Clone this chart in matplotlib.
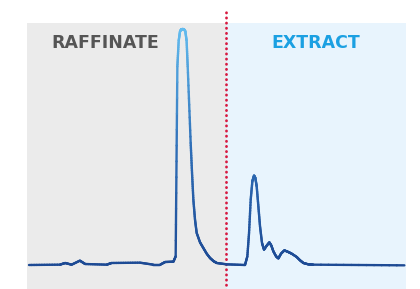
import numpy as np
import matplotlib
matplotlib.use("Agg")
from matplotlib import pyplot as plt
from matplotlib.collections import LineCollection
from matplotlib.colors import LinearSegmentedColormap

# chromatogram trace (time in % of run, signal in % of max peak)
time = [0, 8.2, 9.6, 11.3, 13.5, 14.9, 20.6, 21.9, 29.4, 33.0, 34.8, 36.1, 38.3,
        38.9, 39.35, 39.7, 40.05, 40.4, 40.76, 41.1, 41.47, 41.8, 42.09, 42.88,
        43.24, 43.59, 44.03, 44.47, 45.36, 46.24, 47.13, 48.01, 48.89, 49.78,
        52.43, 57.29, 57.91, 58.36, 58.8, 59.24, 59.68, 60.03, 60.39, 60.83,
        61.27, 61.8, 62.33, 63.04, 63.75, 64.28, 64.81, 65.52, 66.14, 66.84,
        67.73, 68.79, 69.67, 71.0, 71.88, 72.77, 74.09, 75.42, 99.56]
signal = [0, 0.14, 0.85, 0.14, 1.84, 0.42, 0.14, 0.85, 0.99, 0.14, 0.14, 1.27, 1.41,
          3.67, 84.2, 95.0, 99.0, 99.9, 100, 99.9, 99.0, 95.0, 84.2, 51.7,
          39.0, 27.7, 19.2, 13.6, 9.6, 7.2, 4.8, 2.97, 1.7, 0.85,
          0.28, 0, 3.67, 13.6, 27.7, 35.5, 37.9, 36.9, 33.3, 24.9,
          16.4, 9.3, 6.5, 8.2, 9.6, 8.2, 5.8, 3.7, 2.8, 4.8,
          6.2, 5.5, 4.8, 3.4, 2.0, 0.85, 0.28, 0.14, -0.14]

zones = ["RAFFINATE", "EXTRACT"]
zone_bounds = [(-0.5, 52.25), (52.25, 100.0)]
zone_fill = ["#ebebeb", "#e8f4fd"]
zone_text = ["#555555", "#1ba0e2"]
zone_label_x = [20.3, 76.1]
cut_time = 52.25

fig = plt.figure(figsize=(4.2, 2.89), dpi=100)
ax = fig.add_axes([0, 0, 1, 1])
ax.set_xlim(-7.69, 103.7)
ax.set_ylim(-10.17, 112.3)
ax.axis("off")

for (x0, x1), fc in zip(zone_bounds, zone_fill):
    ax.fill_between([x0, x1], -20, 102.5, color=fc, lw=0, zorder=0)

ax.plot([cut_time, cut_time], [-20, 108.5], color="#d7193f", lw=2.0,
        linestyle=(0, (0.1, 1.75)), dash_capstyle="round", zorder=1)

for name, xl, tc in zip(zones, zone_label_x, zone_text):
    ax.text(xl, 93.9, name, ha="center", va="center", fontsize=12.5,
            fontweight="bold", color=tc, family="DejaVu Sans")

# split each straight segment so the colour can follow the height
t = np.asarray(time, dtype=float)
s = np.asarray(signal, dtype=float)
pts = []
for i in range(len(t) - 1):
    for f in np.linspace(0, 1, 12, endpoint=False):
        pts.append((t[i] + f * (t[i + 1] - t[i]), s[i] + f * (s[i + 1] - s[i])))
pts.append((t[-1], s[-1]))
pts = np.array(pts)
segs = np.stack([pts[:-1], pts[1:]], axis=1)
cmap = LinearSegmentedColormap.from_list("trace", ["#1d4a94", "#2f6fb8", "#62bcef"])
lc = LineCollection(segs, cmap=cmap, norm=plt.Normalize(0, 100), lw=1.7,
                    capstyle="round", joinstyle="round", zorder=2)
lc.set_array((segs[:, 0, 1] + segs[:, 1, 1]) / 2)
ax.add_collection(lc)

fig.savefig("out.png", dpi=100)
